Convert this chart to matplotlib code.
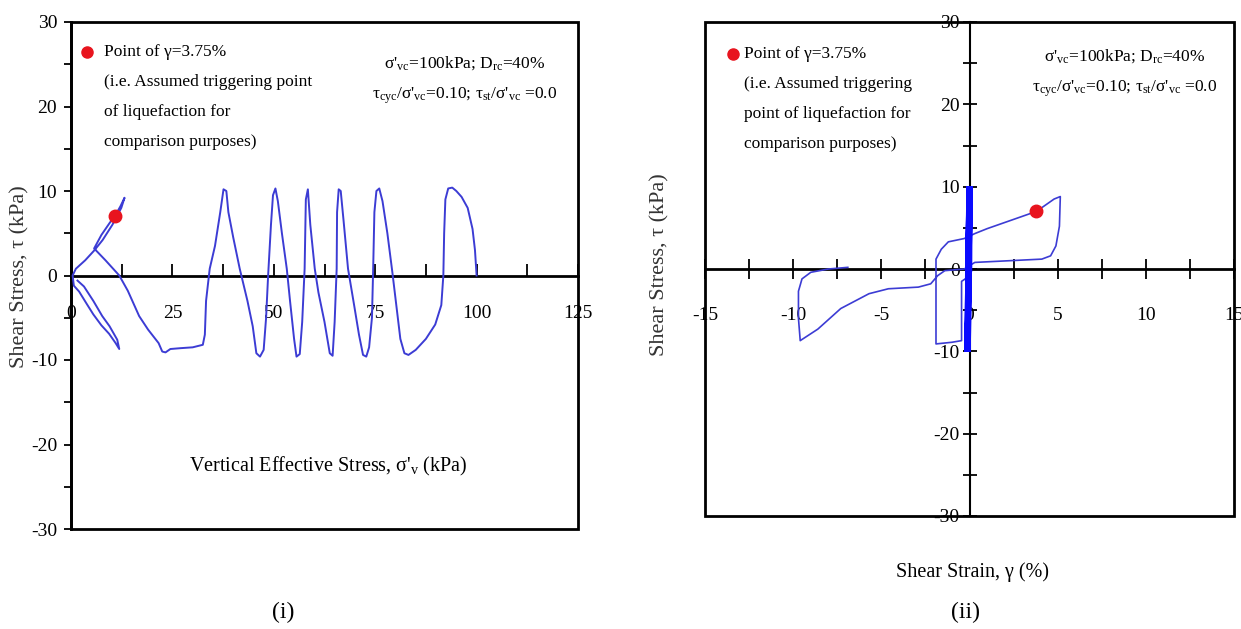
import matplotlib
matplotlib.use('Agg')
import matplotlib.pyplot as plt
from matplotlib.patches import Rectangle
from matplotlib.ticker import MultipleLocator

plt.rcParams['font.family'] = ['Liberation Serif', 'DejaVu Serif']
plt.rcParams['mathtext.fontset'] = 'custom'
plt.rcParams['mathtext.rm'] = 'Liberation Serif'
plt.rcParams['mathtext.it'] = 'Liberation Serif:italic'
plt.rcParams['axes.unicode_minus'] = False

# (i) stress path: vertical effective stress vs shear stress (time order)
sigma_v = [100.0, 99.6, 99.0, 97.8, 96.3, 95.0, 94.0, 93.0, 92.3, 92.0, 91.8, 91.3, 89.8, 87.5,
           85.0, 83.2, 82.2, 81.2, 80.2, 79.2, 78.0, 76.8, 76.0, 75.3, 74.8, 74.5, 74.2, 73.5,
           72.8, 72.0, 71.0, 69.8, 68.3, 67.2, 66.5, 66.0, 65.6, 65.5, 65.0, 64.5, 63.8, 62.5,
           61.0, 60.1, 59.0, 58.4, 57.9, 57.6, 57.0, 56.4, 55.6, 55.0, 54.0, 53.2, 52.0, 51.0,
           50.4, 49.8, 49.3, 48.6, 48.1, 47.5, 46.6, 45.7, 44.8, 43.5, 41.6, 40.0, 38.8, 38.3,
           37.6, 36.8, 35.5, 34.2, 33.3, 33.0, 32.5, 30.0, 27.0, 24.5, 23.3, 22.5, 21.6, 19.0,
           16.8, 14.0, 11.9, 8.5, 5.7, 7.5, 9.5, 10.9, 12.2, 13.2, 12.4, 10.2, 7.8, 5.8,
           3.5, 1.2, 0.4, 0.7, 2.0, 3.8, 5.5, 7.5, 9.4, 11.0, 11.9, 11.4, 9.5, 7.7,
           5.5, 3.2, 1.6]
tau_i = [0.0, 3.0, 5.5, 8.0, 9.3, 10.0, 10.4, 10.3, 9.0, 5.0, 0.0, -3.5, -5.8, -7.5,
         -8.8, -9.4, -9.2, -7.5, -3.5, 0.5, 5.0, 8.8, 10.3, 10.0, 7.5, 0.8, -5.0, -8.5,
         -9.6, -9.4, -7.0, -3.5, 0.8, 6.5, 10.0, 10.2, 7.5, 0.8, -5.5, -9.5, -9.2, -5.5,
         -2.0, 0.8, 6.0, 10.2, 9.0, 0.8, -5.5, -9.3, -9.6, -7.5, -3.0, 0.8, 5.0, 8.8,
         10.3, 9.5, 6.0, 0.0, -5.0, -8.8, -9.6, -9.2, -6.0, -3.0, 0.8, 4.5, 7.5, 10.0,
         10.2, 7.5, 3.5, 0.8, -3.0, -7.0, -8.2, -8.5, -8.6, -8.7, -9.1, -9.0, -8.0, -6.4,
         -4.8, -1.8, 0.0, 1.8, 3.2, 4.8, 6.2, 7.1, 8.2, 9.2, 8.0, 6.0, 4.2, 3.0,
         1.8, 0.8, 0.0, -1.2, -1.9, -3.3, -4.6, -5.9, -6.9, -8.0, -8.7, -7.6, -6.0, -4.8,
         -3.0, -1.3, -0.6]

# (ii) stress-strain: early cycles at near-zero strain, then large strain loops
gamma_cyc = [0.0, 0.02, -0.08, 0.02, -0.1, 0.0, -0.12, 0.0, -0.12, -0.02, -0.14, -0.02, -0.1]
tau_cyc = [0.0, 10.0, -10.0, 10.0, -10.0, 10.0, -10.0, 10.0, -10.0, 10.0, -10.0, 10.0, -1.0]
gamma_ii = [-0.1, -0.45, -0.45, -0.45, -1.0, -1.9, -1.9, -1.9, -1.6, -1.2, -0.3, 0.3, 1.0,
            2.2, 3.8, 4.8, 5.15, 5.1, 4.9, 4.6, 4.1, 2.2, 0.3, 0.0, -0.3, -1.4, -1.8,
            -2.2, -2.9, -4.6, -5.7, -7.3, -8.6, -9.6, -9.7, -9.7, -9.5, -9.0, -8.0, -6.9]
tau_ii = [-1.0, -1.5, -5.0, -8.7, -8.9, -9.1, -5.0, 1.2, 2.4, 3.3, 3.7, 4.3, 4.9,
          5.8, 7.0, 8.5, 8.8, 5.2, 2.8, 1.6, 1.2, 1.0, 0.8, 0.4, 0.0, -0.2, -0.8,
          -1.8, -2.2, -2.4, -3.0, -4.8, -7.3, -8.7, -6.0, -2.7, -1.2, -0.4, 0.0, 0.2]

trig_i = (10.9, 7.1)
trig_ii = (3.75, 7.0)

note_lines = ['Point of \u03b3=3.75%', '(i.e. Assumed triggering point',
              'of liquefaction for', 'comparison purposes)']
note_lines_ii = ['Point of \u03b3=3.75%', '(i.e. Assumed triggering',
                 'point of liquefaction for', 'comparison purposes)']
cond_1 = "\u03c3'$_{\\mathrm{vc}}$=100kPa; D$_{\\mathrm{rc}}$=40%"
cond_2 = "\u03c4$_{\\mathrm{cyc}}$/\u03c3'$_{\\mathrm{vc}}$=0.10; \u03c4$_{\\mathrm{st}}$/\u03c3'$_{\\mathrm{vc}}$ =0.0"

line_col = '#3c3cd4'
dot_col = '#e8141e'

fig = plt.figure(figsize=(12.41, 6.29), dpi=100)

# ---------- (i) ----------
ax1 = fig.add_axes([71 / 1241, 100 / 629, 507 / 1241, 507 / 629])
ax1.plot(sigma_v, tau_i, color=line_col, lw=1.4, zorder=4)
ax1.plot(*trig_i, 'o', color=dot_col, ms=9, zorder=5)
ax1.set_xlim(0, 125)
ax1.set_ylim(-30, 30)
for s in ['top', 'right']:
    ax1.spines[s].set_visible(False)
ax1.spines['bottom'].set_position(('data', 0))
ax1.spines['bottom'].set_linewidth(2)
ax1.spines['left'].set_linewidth(2)
ax1.add_patch(Rectangle((0, 0), 1, 1, transform=ax1.transAxes, fill=False,
                        lw=2, ec='black', clip_on=False, zorder=3))
ax1.xaxis.set_major_locator(MultipleLocator(25))
ax1.xaxis.set_minor_locator(MultipleLocator(12.5))
ax1.yaxis.set_major_locator(MultipleLocator(10))
ax1.yaxis.set_minor_locator(MultipleLocator(5))
ax1.tick_params(axis='x', which='both', direction='in', length=9, width=1.3, pad=21, labelsize=14)
ax1.tick_params(axis='y', which='both', direction='out', length=5, width=1.3, pad=5, labelsize=14)

ax1.plot(4.0, 26.5, 'o', color=dot_col, ms=8)
for i, t in enumerate(note_lines):
    ax1.text(8.2, 26.5 - 3.55 * i, t, fontsize=12.5, va='center', ha='left')
ax1.text(97, 25.1, cond_1, fontsize=12.5, ha='center', va='center')
ax1.text(97, 21.3, cond_2, fontsize=12.5, ha='center', va='center')
ax1.text(63.5, -22.6, "Vertical Effective Stress, \u03c3'$_{\\mathrm{v}}$ (kPa)",
         fontsize=14.5, ha='center', va='center')
fig.text(20 / 1241, 1 - 277 / 629, 'Shear Stress, \u03c4 (kPa)', rotation=90,
         fontsize=16, ha='center', va='center', color='#333333')
fig.text(283 / 1241, 1 - 612 / 629, '(i)', fontsize=17, ha='center', va='center')

# ---------- (ii) ----------
ax2 = fig.add_axes([705 / 1241, 113 / 629, 529 / 1241, 494 / 629])
ax2.plot(gamma_cyc, tau_cyc, color='#0a0aff', lw=4, zorder=5, solid_joinstyle='miter')
ax2.plot(gamma_ii, tau_ii, color=line_col, lw=1.2, zorder=4)
ax2.plot(*trig_ii, 'o', color=dot_col, ms=9, zorder=6)
ax2.set_xlim(-15, 15)
ax2.set_ylim(-30, 30)
for s in ['top', 'right']:
    ax2.spines[s].set_visible(False)
ax2.spines['left'].set_position(('data', 0))
ax2.spines['bottom'].set_position(('data', 0))
ax2.spines['left'].set_linewidth(1.5)
ax2.spines['bottom'].set_linewidth(2)
ax2.add_patch(Rectangle((0, 0), 1, 1, transform=ax2.transAxes, fill=False,
                        lw=2, ec='black', clip_on=False, zorder=3))
ax2.xaxis.set_major_locator(MultipleLocator(5))
ax2.xaxis.set_minor_locator(MultipleLocator(2.5))
ax2.yaxis.set_major_locator(MultipleLocator(10))
ax2.yaxis.set_minor_locator(MultipleLocator(5))
ax2.tick_params(axis='x', which='both', direction='inout', length=14, width=1.3, pad=20, labelsize=14)
ax2.tick_params(axis='y', which='both', direction='inout', length=10, width=1.3, pad=2, labelsize=14)

ax2.plot(-13.4, 26.1, 'o', color=dot_col, ms=8)
for i, t in enumerate(note_lines_ii):
    ax2.text(-12.8, 26.1 - 3.65 * i, t, fontsize=12.5, va='center', ha='left')
ax2.text(8.8, 25.9, cond_1, fontsize=12.5, ha='center', va='center')
ax2.text(8.8, 21.9, cond_2, fontsize=12.5, ha='center', va='center')
fig.text(972 / 1241, 1 - 572 / 629, 'Shear Strain, \u03b3 (%)', fontsize=14.5,
         ha='center', va='center')
fig.text(660 / 1241, 1 - 265 / 629, 'Shear Stress, \u03c4 (kPa)', rotation=90,
         fontsize=16, ha='center', va='center', color='#333333')
fig.text(966 / 1241, 1 - 612 / 629, '(ii)', fontsize=17, ha='center', va='center')

fig.savefig('out.png', dpi=100)
